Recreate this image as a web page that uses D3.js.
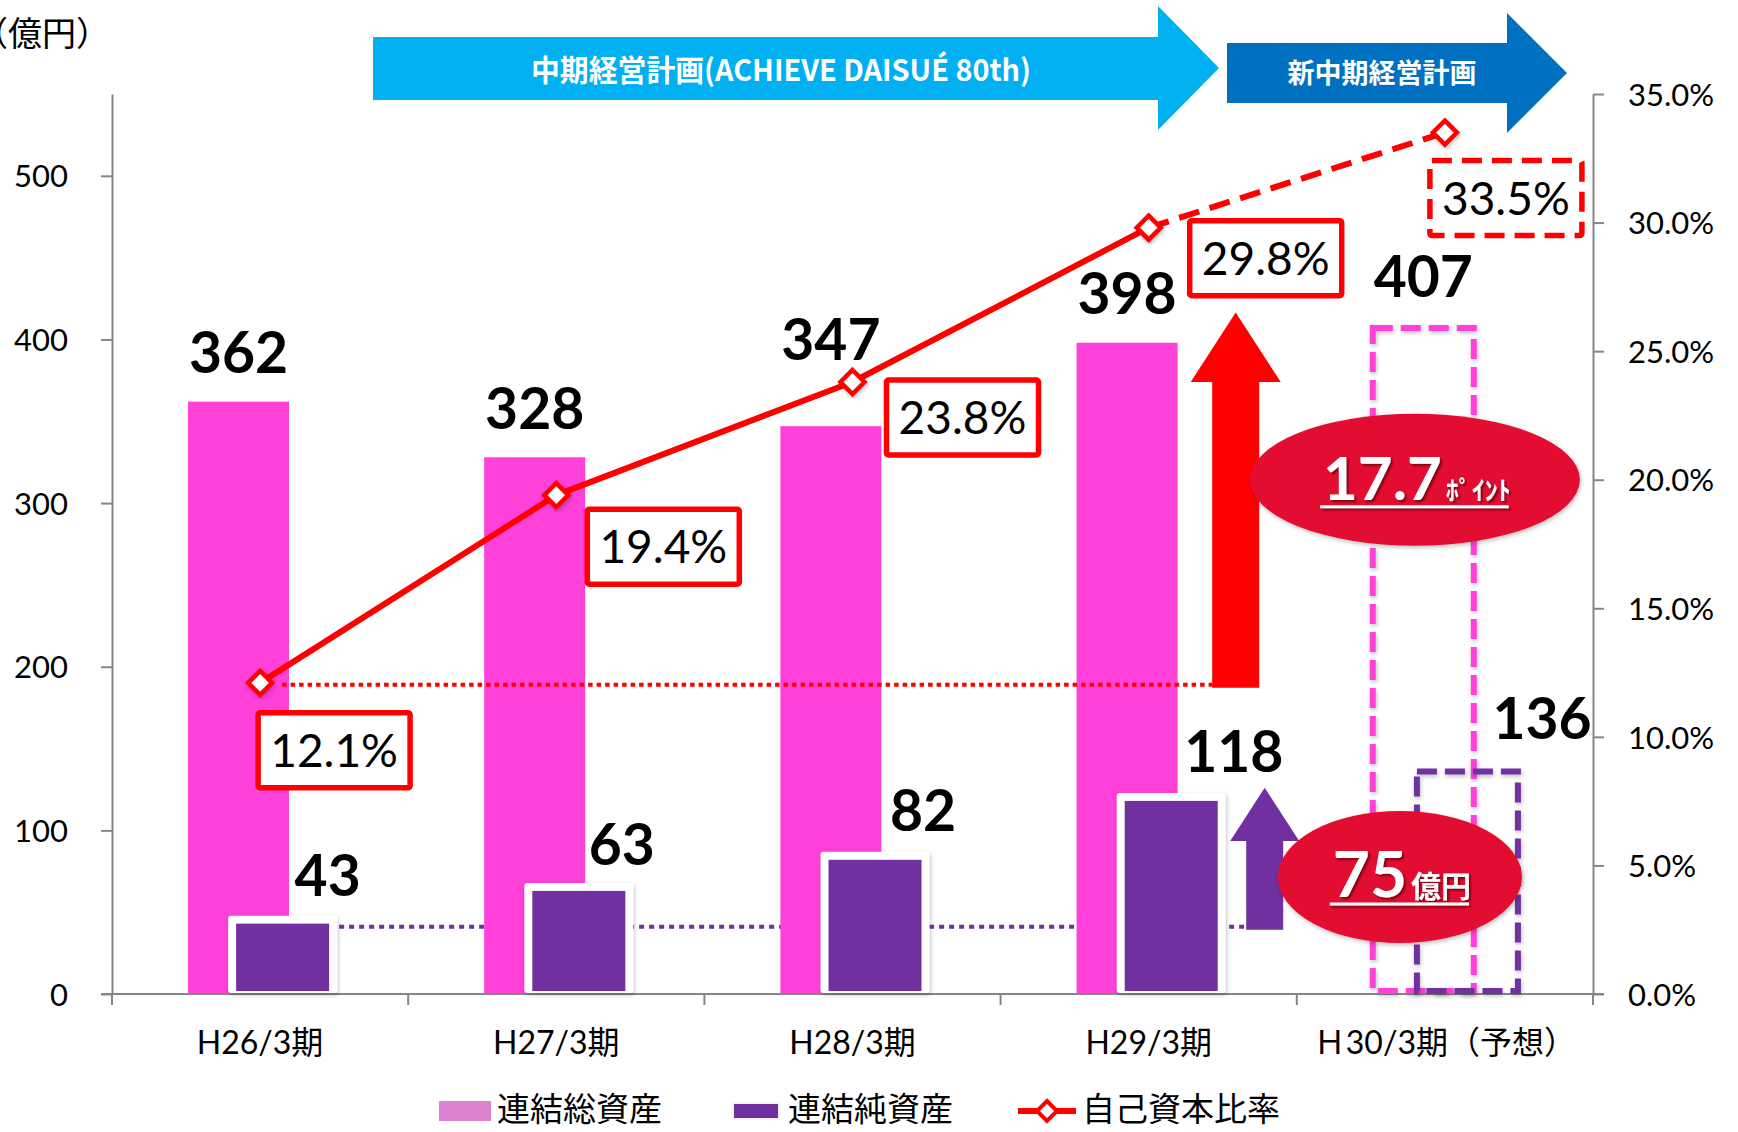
<!DOCTYPE html>
<html>
<head>
<meta charset="utf-8">
<script src="https://cdn.jsdelivr.net/npm/d3@7"></script>
<style>
  body { margin: 0; background: #fff; }
  svg { display: block; }
</style>
</head>
<body>
<div id="chart"></div>
<script>
////////////////////////////////////////////////////////////////////////
// Data

const categories = ["H26/3期", "H27/3期", "H28/3期", "H29/3期", "Ｈ30/3期（予想）"];
const totalAssets = [362, 328, 347, 398, 407];   // 連結総資産 (億円)
const netAssets = [43, 63, 82, 118, 136];        // 連結純資産 (億円)
const equityRatio = [12.1, 19.4, 23.8, 29.8, 33.5]; // 自己資本比率 (%)
const isForecast = [false, false, false, false, true];
const leftTicks = [0, 100, 200, 300, 400, 500];
const rightTicks = [0, 5, 10, 15, 20, 25, 30, 35];
const seriesNames = ["連結総資産", "連結純資産", "自己資本比率"];

// label placement tweaks (pixels, relative to the mark)
const ratioBoxOffset = [[-2, 30], [31, 14], [34, -2], [41, -7], [-15, 28]];
const totalLabelDy = [29, 28, 66, 29, 31];
const netLabelDx = [12, 10, 15, 13, 25];
const netLabelDy = [28, 26, 29, 29, 32];

////////////////////////////////////////////////////////////////////////
// Setup

const W = 1738, H = 1132;
const pink = "#FF40D9", purple = "#7030A0", red = "#FF0000", crimson = "#E31030";
const axisGrey = "#868686";
const numFont = "Lato, 'Noto Sans CJK JP', sans-serif";
const jpFont = "'Noto Sans CJK JP', sans-serif";

const svg = d3.select("#chart").append("svg")
  .attr("width", W).attr("height", H);

const defs = svg.append("defs");
function addShadow(id, dx, dy, sd, color, op) {
  defs.append("filter").attr("id", id)
    .attr("x", "-20%").attr("y", "-20%").attr("width", "140%").attr("height", "140%")
    .append("feDropShadow")
    .attr("dx", dx).attr("dy", dy).attr("stdDeviation", sd)
    .attr("flood-color", color).attr("flood-opacity", op);
}
addShadow("soft", 1, 2, 2, "#000", 0.25);
addShadow("textShadow", 2, 2, 1.2, "#500", 0.7);

let margins = { top: 94, right: 145, bottom: 138, left: 112 };
let plotBottom = H - margins.bottom;     // 994
let plotRight = W - margins.right;       // 1593

let xScale = d3.scaleBand().domain(categories).range([margins.left, plotRight]);
let yLeft = d3.scaleLinear().domain([0, 550]).range([plotBottom, margins.top]);
let yRight = d3.scaleLinear().domain([0, 35]).range([plotBottom, margins.top]);
let bw = xScale.bandwidth();
const center = (i) => xScale(categories[i]) + bw / 2;

const pinkW = bw * 0.341, pinkOff = -bw * 0.073;
const purpleW = bw * 0.314, purpleOff = bw * 0.076;
const pinkX = (i) => center(i) + pinkOff - pinkW / 2;
const purpleX = (i) => center(i) + purpleOff - purpleW / 2;

////////////////////////////////////////////////////////////////////////
// Top banners (plan arrows)

function bannerArrow(x0, x1, y0, y1, headTop, headBot, tipX) {
  let ym = (headTop + headBot) / 2;
  return `M${x0},${y0} L${x1},${y0} L${x1},${headTop} L${tipX},${ym} L${x1},${headBot} L${x1},${y1} L${x0},${y1} Z`;
}
svg.append("path").attr("d", bannerArrow(373, 1158, 37, 100, 6, 130, 1219)).attr("fill", "#00B0F0");
svg.append("path").attr("d", bannerArrow(1227, 1507, 43, 103, 13, 133, 1567)).attr("fill", "#0070C0");

svg.append("text")
  .attr("x", 781).attr("y", 81)
  .attr("text-anchor", "middle")
  .attr("font-family", jpFont).attr("font-weight", 700).attr("font-size", 30)
  .attr("fill", "#fff")
  .attr("textLength", 500).attr("lengthAdjust", "spacingAndGlyphs")
  .text("中期経営計画(ACHIEVE DAISUÉ 80th)");

svg.append("text")
  .attr("x", 1382).attr("y", 83)
  .attr("text-anchor", "middle")
  .attr("font-family", jpFont).attr("font-weight", 700).attr("font-size", 27)
  .attr("fill", "#fff")
  .text("新中期経営計画");

// unit label (cut by the left edge like the original)
svg.append("text")
  .attr("x", -26).attr("y", 46)
  .attr("font-family", jpFont).attr("font-size", 34).attr("fill", "#000")
  .text("（億円）");

////////////////////////////////////////////////////////////////////////
// Axes

let leftAxis = svg.append("g")
  .attr("transform", `translate(${margins.left},0)`)
  .call(d3.axisLeft(yLeft).tickValues(leftTicks).tickSize(11).tickSizeOuter(0).tickPadding(33));

let rightAxis = svg.append("g")
  .attr("transform", `translate(${plotRight},0)`)
  .call(d3.axisRight(yRight).tickValues(rightTicks).tickSize(11).tickSizeOuter(0).tickPadding(24)
    .tickFormat((d) => d.toFixed(1) + "%"));

[leftAxis, rightAxis].forEach((a) => {
  a.select(".domain").attr("stroke", axisGrey).attr("stroke-width", 2);
  a.selectAll(".tick line").attr("stroke", axisGrey).attr("stroke-width", 2);
  a.selectAll(".tick text")
    .attr("font-family", numFont).attr("font-size", 31).attr("fill", "#000")
    .attr("dy", "0.36em");
});

// x axis line with category boundary ticks
svg.append("line")
  .attr("x1", margins.left - 11).attr("x2", plotRight + 11)
  .attr("y1", plotBottom).attr("y2", plotBottom)
  .attr("stroke", axisGrey).attr("stroke-width", 2);

let bounds = categories.map((c) => xScale(c)).concat([plotRight]);
svg.append("g").selectAll("line")
  .data(bounds)
  .enter()
  .append("line")
  .attr("x1", (d) => d).attr("x2", (d) => d)
  .attr("y1", plotBottom).attr("y2", plotBottom + 11)
  .attr("stroke", axisGrey).attr("stroke-width", 2);

svg.append("g").selectAll("text")
  .data(categories)
  .enter()
  .append("text")
  .attr("x", (d, i) => center(i))
  .attr("y", plotBottom + 60)
  .attr("text-anchor", "middle")
  .attr("font-family", numFont).attr("font-size", 32).attr("fill", "#000")
  .text((d) => d);

////////////////////////////////////////////////////////////////////////
// Reference dotted line for net assets (behind bars)

svg.append("line")
  .attr("x1", purpleX(0) + purpleW).attr("x2", center(3) + 96)
  .attr("y1", yLeft(netAssets[0]) + 3).attr("y2", yLeft(netAssets[0]) + 3)
  .attr("stroke", purple).attr("stroke-width", 4)
  .attr("stroke-dasharray", "5,5");

////////////////////////////////////////////////////////////////////////
// Bars

let actual = d3.range(categories.length).filter((i) => !isForecast[i]);
let future = d3.range(categories.length).filter((i) => isForecast[i]);

svg.append("g").selectAll("rect")
  .data(actual)
  .enter()
  .append("rect")
  .attr("x", (i) => pinkX(i))
  .attr("y", (i) => yLeft(totalAssets[i]))
  .attr("width", pinkW)
  .attr("height", (i) => plotBottom - yLeft(totalAssets[i]))
  .attr("fill", pink);

// net asset bars: white frame then purple fill
let netG = svg.append("g");
netG.selectAll("rect.frame")
  .data(actual)
  .enter()
  .append("rect")
  .attr("class", "frame")
  .attr("x", (i) => purpleX(i) - 8)
  .attr("y", (i) => yLeft(netAssets[i]) - 8)
  .attr("width", purpleW + 16)
  .attr("height", (i) => plotBottom - yLeft(netAssets[i]) + 7)
  .attr("rx", 3)
  .attr("fill", "#fff")
  .attr("filter", "url(#soft)");
netG.selectAll("rect.fill")
  .data(actual)
  .enter()
  .append("rect")
  .attr("class", "fill")
  .attr("x", (i) => purpleX(i))
  .attr("y", (i) => yLeft(netAssets[i]))
  .attr("width", purpleW)
  .attr("height", (i) => plotBottom - 3 - yLeft(netAssets[i]))
  .attr("fill", purple);

// forecast bars: dashed outlines
svg.append("g").selectAll("rect")
  .data(future)
  .enter()
  .append("rect")
  .attr("x", (i) => pinkX(i))
  .attr("y", (i) => yLeft(totalAssets[i]))
  .attr("width", pinkW)
  .attr("height", (i) => plotBottom - yLeft(totalAssets[i]) - 3)
  .attr("fill", "none")
  .attr("stroke", pink).attr("stroke-width", 6)
  .attr("stroke-dasharray", "20,8")
  .attr("filter", "url(#soft)");

svg.append("g").selectAll("rect")
  .data(future)
  .enter()
  .append("rect")
  .attr("x", (i) => purpleX(i) - 4)
  .attr("y", (i) => yLeft(netAssets[i]))
  .attr("width", purpleW + 8)
  .attr("height", (i) => plotBottom - yLeft(netAssets[i]) - 3)
  .attr("fill", "none")
  .attr("stroke", purple).attr("stroke-width", 6)
  .attr("stroke-dasharray", "20,8")
  .attr("filter", "url(#soft)");

////////////////////////////////////////////////////////////////////////
// Red dotted base line and growth arrows

let baseY = yRight(equityRatio[0]);
svg.append("line")
  .attr("x1", center(0) + 22).attr("x2", center(3) + 64)
  .attr("y1", baseY + 2).attr("y2", baseY + 2)
  .attr("stroke", red).attr("stroke-width", 4)
  .attr("stroke-dasharray", "4.5,4");

function upArrow(cx, shaftW, headW, bottom, headBase, tip) {
  return `M${cx - shaftW / 2},${bottom} L${cx - shaftW / 2},${headBase} L${cx - headW / 2},${headBase}` +
    ` L${cx},${tip} L${cx + headW / 2},${headBase} L${cx + shaftW / 2},${headBase} L${cx + shaftW / 2},${bottom} Z`;
}
svg.append("path")
  .attr("d", upArrow(center(3) + 87, 47, 90, baseY + 5, yRight(equityRatio[2]), yRight(26.5)))
  .attr("fill", red);

svg.append("path")
  .attr("d", upArrow(center(3) + 116, 37, 69, yLeft(netAssets[0]) + 6, yLeft(93.5), yLeft(126)))
  .attr("fill", purple);

////////////////////////////////////////////////////////////////////////
// Equity ratio line

let pts = equityRatio.map((v, i) => [center(i), yRight(v)]);
let line = d3.line();
let nActual = actual.length;

svg.append("path")
  .attr("d", line(pts.slice(0, nActual)))
  .attr("fill", "none").attr("stroke", red).attr("stroke-width", 6)
  .attr("stroke-linejoin", "round");

svg.append("path")
  .attr("d", line(pts.slice(nActual - 1)))
  .attr("fill", "none").attr("stroke", red).attr("stroke-width", 6)
  .attr("stroke-dasharray", "21,11");

const diamond = (r) => `M0,${-r} L${r},0 L0,${r} L${-r},0 Z`;
svg.append("g").selectAll("path")
  .data(pts)
  .enter()
  .append("path")
  .attr("transform", (d) => `translate(${d[0]},${d[1]})`)
  .attr("d", diamond(12))
  .attr("fill", "#fff").attr("stroke", red).attr("stroke-width", 4.5)
  .attr("filter", "url(#soft)");

// ratio labels in red boxes
let boxG = svg.append("g").selectAll("g")
  .data(equityRatio)
  .enter()
  .append("g")
  .attr("transform", (d, i) => `translate(${pts[i][0] + ratioBoxOffset[i][0]},${pts[i][1] + ratioBoxOffset[i][1]})`);

boxG.append("rect")
  .attr("width", 152).attr("height", 75).attr("rx", 2)
  .attr("fill", "#fff").attr("stroke", red).attr("stroke-width", 5.5)
  .attr("stroke-dasharray", (d, i) => isForecast[i] ? "20,10" : null);

boxG.append("text")
  .attr("x", 76).attr("y", 54)
  .attr("text-anchor", "middle")
  .attr("font-family", numFont).attr("font-size", 46).attr("fill", "#000")
  .text((d) => d.toFixed(1) + "%");

////////////////////////////////////////////////////////////////////////
// Bar value labels

svg.append("g").selectAll("text")
  .data(totalAssets)
  .enter()
  .append("text")
  .attr("x", (d, i) => pinkX(i) + pinkW / 2)
  .attr("y", (d, i) => yLeft(d) - totalLabelDy[i])
  .attr("text-anchor", "middle")
  .attr("font-family", numFont).attr("font-weight", 700).attr("font-size", 57).attr("fill", "#000")
  .text((d) => d);

svg.append("g").selectAll("text")
  .data(netAssets)
  .enter()
  .append("text")
  .attr("x", (d, i) => center(i) + purpleOff + netLabelDx[i])
  .attr("y", (d, i) => yLeft(d) - netLabelDy[i])
  .attr("font-family", numFont).attr("font-weight", 700).attr("font-size", 57).attr("fill", "#000")
  .text((d) => d);

////////////////////////////////////////////////////////////////////////
// Highlight ellipses

function badge(cx, cy, rx, ry, big, bigSize, small, smallSize, smallFont) {
  let g = svg.append("g");
  g.append("ellipse")
    .attr("cx", cx).attr("cy", cy).attr("rx", rx).attr("ry", ry)
    .attr("fill", crimson).attr("filter", "url(#soft)");
  let t = g.append("g").attr("filter", "url(#textShadow)");
  let txt = t.append("text")
    .attr("y", cy + 20)
    .attr("fill", "#fff").attr("font-weight", 700);
  txt.append("tspan").attr("font-family", numFont).attr("font-size", bigSize).text(big);
  txt.append("tspan").attr("font-family", smallFont).attr("font-size", smallSize).attr("dx", 4).text(small);
  let w = txt.node().getComputedTextLength();
  txt.attr("x", cx - w / 2);
  t.append("line")
    .attr("x1", cx - w / 2 - 3).attr("x2", cx + w / 2 + 2)
    .attr("y1", cy + 27).attr("y2", cy + 27)
    .attr("stroke", "#fff").attr("stroke-width", 3);
}

let ratioGain = (equityRatio[3] - equityRatio[0]).toFixed(1);
let netGain = netAssets[3] - netAssets[0];
badge(center(4) - 30, yRight(20), 165, 66, ratioGain, 60, "ﾎﾟｲﾝﾄ", 26, jpFont);
badge(center(4) - 45, yLeft(71.5), 122, 66, netGain, 64, "億円", 30, jpFont);

////////////////////////////////////////////////////////////////////////
// Legend

let legendY = 1110;
let legend = svg.append("g");
legend.append("rect").attr("x", 439).attr("y", legendY - 9).attr("width", 52).attr("height", 20).attr("fill", "#DC80CF");
legend.append("rect").attr("x", 733).attr("y", legendY - 7).attr("width", 46).attr("height", 16).attr("fill", purple)
  .attr("stroke", "#f4f4f4").attr("stroke-width", 2);
legend.append("line").attr("x1", 1018).attr("x2", 1076).attr("y1", legendY + 1).attr("y2", legendY + 1)
  .attr("stroke", red).attr("stroke-width", 6);
legend.append("path").attr("transform", `translate(1047,${legendY + 1})`).attr("d", diamond(10))
  .attr("fill", "#fff").attr("stroke", red).attr("stroke-width", 4);

legend.selectAll("text")
  .data(seriesNames)
  .enter()
  .append("text")
  .attr("x", (d, i) => [497, 788, 1082][i])
  .attr("y", legendY + 11)
  .attr("font-family", jpFont).attr("font-size", 33).attr("fill", "#000")
  .text((d) => d);
</script>
</body>
</html>
